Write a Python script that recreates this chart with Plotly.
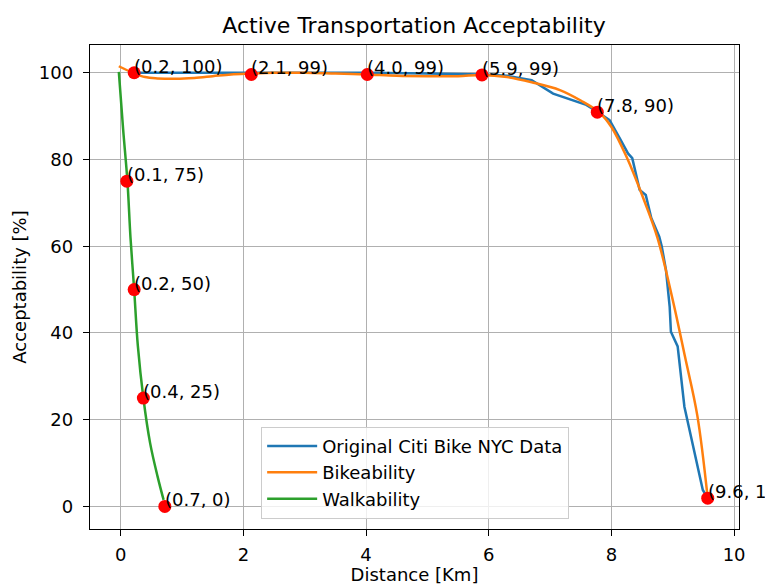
import plotly.graph_objects as go

# ---- data ----
citi_x = [0.22, 1.0, 2.0, 3.0, 4.0, 5.0, 5.9, 6.3, 6.7, 7.05, 7.3, 7.59, 7.77, 7.97, 8.15,
          8.27, 8.34, 8.46, 8.56, 8.65, 8.78, 8.82, 8.89, 8.95, 8.97, 9.08, 9.19, 9.33, 9.49, 9.57]
citi_y = [100, 100, 100, 100, 100, 99.8, 99.6, 99.3, 98.3, 95.2, 94.0, 92.6, 91.0, 89.1, 84.5,
          81.4, 80.3, 73.0, 71.8, 66.5, 62.2, 60.0, 54.5, 46.0, 40.3, 36.9, 23.0, 13.8, 3.8, 1.9]

bike_x = [-0.03, 0.2, 0.4, 0.6, 0.9, 1.2, 1.5, 1.8, 2.1, 2.5, 3.0, 3.5, 4.0, 4.5, 5.0, 5.5, 5.9,
          6.3, 6.7, 7.16, 7.5, 7.8, 8.0, 8.25, 8.5, 8.75, 9.0, 9.2, 9.4, 9.57]
bike_y = [101.5, 100.0, 99.0, 98.7, 98.6, 98.8, 99.2, 99.6, 99.8, 100.0, 100.0, 99.8, 99.6, 99.3,
          99.2, 99.2, 99.5, 99.0, 97.8, 96.0, 93.6, 90.9, 87.5, 80.5, 71.8, 62.0, 47.6, 34.5, 21.0, 1.9]

walk_x = [-0.03, 0.04, 0.11, 0.16, 0.22, 0.28, 0.37, 0.48, 0.6, 0.7]
walk_y = [100.2, 87, 75, 62, 50, 37, 25, 14.6, 7, 1.5]

bike_pts_x = [0.22, 2.13, 4.02, 5.89, 7.77, 9.57]
bike_pts_y = [100, 99.6, 99.6, 99.5, 90.9, 1.9]
bike_pts_lbl = ["(0.2, 100)", "(2.1, 99)", "(4.0, 99)", "(5.9, 99)", "(7.8, 90)", "(9.6, 1)"]

walk_pts_x = [0.1, 0.22, 0.37, 0.72]
walk_pts_y = [75, 50, 25, 0]
walk_pts_lbl = ["(0.1, 75)", "(0.2, 50)", "(0.4, 25)", "(0.7, 0)"]

x_ticks = [0, 2, 4, 6, 8, 10]
y_ticks = [0, 20, 40, 60, 80, 100]

FONT = "DejaVu Sans"
FS = 18

fig = go.Figure()
fig.add_trace(go.Scatter(x=citi_x, y=citi_y, mode="lines", name="Original Citi Bike NYC Data",
                         line=dict(color="#1f77b4", width=2.5)))
fig.add_trace(go.Scatter(x=bike_x, y=bike_y, mode="lines", name="Bikeability",
                         line=dict(color="#ff7f0e", width=2.5, shape="spline")))
fig.add_trace(go.Scatter(x=walk_x, y=walk_y, mode="lines", name="Walkability",
                         line=dict(color="#2ca02c", width=2.5, shape="spline")))
fig.add_trace(go.Scatter(x=bike_pts_x + walk_pts_x, y=bike_pts_y + walk_pts_y, mode="markers",
                         marker=dict(color="#ff0000", size=13), showlegend=False))

for xs, ys, ls in [(bike_pts_x, bike_pts_y, bike_pts_lbl), (walk_pts_x, walk_pts_y, walk_pts_lbl)]:
    for x, y, t in zip(xs, ys, ls):
        fig.add_annotation(x=x, y=y, text=t, showarrow=False, xanchor="left", yanchor="bottom",
                           yshift=-6, xshift=-2, font=dict(family=FONT, size=FS, color="#000000"))

axis_common = dict(showgrid=True, gridcolor="#b0b0b0", gridwidth=1.3, zeroline=False,
                   showline=True, linecolor="#000000", linewidth=1.4, mirror=True,
                   ticks="outside", ticklen=6, tickwidth=1.4, tickcolor="#000000",
                   automargin=False,
                   tickfont=dict(family=FONT, size=FS, color="#000000"))

# page has an 8px body margin: figure is offset to compensate (overflow is cropped by the viewport)
W = 790
fig.update_layout(
    width=W, height=577,
    margin=dict(l=82, r=W - 731.5, t=37, b=56),
    paper_bgcolor="white", plot_bgcolor="white",
    title=dict(text="Active Transportation Acceptability", x=406 / W, xanchor="center",
               y=1 - 17 / 577, yanchor="middle", font=dict(family=FONT, size=22, color="#000000")),
    xaxis=dict(range=[-0.50, 10.08], tickvals=x_ticks, ticklabelstandoff=3,
               title=dict(text="Distance [Km]", font=dict(family=FONT, size=FS, color="#000000"), standoff=9),
               **axis_common),
    yaxis=dict(range=[-5.2, 106.4], tickvals=y_ticks, ticklabelstandoff=6,
               title=dict(text="Acceptability [%]", font=dict(family=FONT, size=FS, color="#000000"), standoff=7),
               **axis_common),
    legend=dict(x=0.501, xanchor="center", y=0.0213, yanchor="bottom",
                bgcolor="rgba(255,255,255,0.8)", bordercolor="#cccccc", borderwidth=1,
                itemwidth=50,
                font=dict(family=FONT, size=FS, color="#000000")),
    showlegend=True,
)

fig.write_html("out.html")
